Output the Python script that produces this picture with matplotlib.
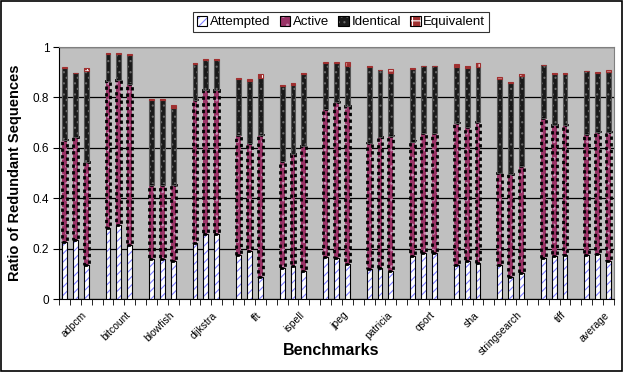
import matplotlib
matplotlib.use("Agg")
import matplotlib.pyplot as plt
from matplotlib.patches import Patch, Rectangle

plt.rcParams["font.family"] = ["Liberation Sans", "DejaVu Sans"]
plt.rcParams["hatch.linewidth"] = 0.8

benchmarks = ["adpcm", "bitcount", "blowfish", "dijkstra", "fft", "ispell",
              "jpeg", "patricia", "qsort", "sha", "stringsearch", "tiff",
              "average"]

# three runs per benchmark, stacked segments
attempted = [
    [0.226, 0.234, 0.135], [0.280, 0.295, 0.213], [0.160, 0.160, 0.151],
    [0.222, 0.258, 0.258], [0.176, 0.192, 0.087], [0.123, 0.129, 0.112],
    [0.166, 0.164, 0.137], [0.119, 0.125, 0.112], [0.169, 0.183, 0.183],
    [0.134, 0.149, 0.144], [0.136, 0.087, 0.103], [0.163, 0.172, 0.176],
    [0.175, 0.179, 0.149],
]
active = [
    [0.406, 0.407, 0.407], [0.586, 0.575, 0.640], [0.294, 0.294, 0.300],
    [0.569, 0.573, 0.573], [0.476, 0.429, 0.565], [0.423, 0.446, 0.496],
    [0.588, 0.616, 0.630], [0.500, 0.518, 0.536], [0.456, 0.476, 0.476],
    [0.563, 0.533, 0.557], [0.364, 0.408, 0.426], [0.555, 0.520, 0.516],
    [0.480, 0.482, 0.512],
]
identical = [
    [0.284, 0.254, 0.363], [0.107, 0.102, 0.116], [0.337, 0.337, 0.308],
    [0.143, 0.118, 0.118], [0.222, 0.245, 0.226], [0.301, 0.274, 0.286],
    [0.183, 0.157, 0.158], [0.301, 0.264, 0.250], [0.289, 0.264, 0.264],
    [0.223, 0.236, 0.218], [0.373, 0.362, 0.357], [0.209, 0.202, 0.202],
    [0.248, 0.237, 0.239],
]
equivalent = [
    [0.003, 0.003, 0.012], [0.003, 0.003, 0.003], [0.003, 0.003, 0.012],
    [0.003, 0.003, 0.003], [0.003, 0.008, 0.015], [0.003, 0.008, 0.003],
    [0.003, 0.003, 0.015], [0.005, 0.003, 0.015], [0.003, 0.003, 0.003],
    [0.014, 0.008, 0.018], [0.006, 0.003, 0.008], [0.003, 0.003, 0.003],
    [0.003, 0.003, 0.010],
]

# (face, hatch colour, hatch, edge colour, edge style)
styles = {
    "Attempted": ("white", "#7f7fff", "////", "black", "-"),
    "Active": ("#993366", "#c888b0", "..", "black", (0, (1.2, 1.2))),
    "Identical": ("#1a1a1a", "#6a6a6a", "...", "#555555", "-"),
    "Equivalent": ("#a03030", "white", "++", "#a03030", "-"),
}
series = {"Attempted": attempted, "Active": active,
          "Identical": identical, "Equivalent": equivalent}

fig = plt.figure(figsize=(6.26, 3.72), dpi=100)
ax = fig.add_axes([59 / 626, 1 - 299 / 372, 555 / 626, 252 / 372])
ax.set_facecolor("#c0c0c0")

width = 0.45
xs = []
for g in range(len(benchmarks)):
    for j in range(3):
        xs.append(g * 4 + j)

bottom = [0.0] * len(xs)
for name, data in series.items():
    face, hcol, hatch, ecol, ls = styles[name]
    vals = [v for grp in data for v in grp]
    ax.bar(xs, vals, width, bottom=bottom, color=face, edgecolor=hcol,
           hatch=hatch, linewidth=0, zorder=3)
    lw = 2.0 if name == "Active" else 0.8
    ax.bar(xs, vals, width, bottom=bottom, fill=False, edgecolor=ecol,
           linewidth=lw, linestyle=ls, zorder=4)
    bottom = [b + v for b, v in zip(bottom, vals)]

ax.set_xlim(-0.5, len(benchmarks) * 4 - 1.5)
ax.set_ylim(0, 1)
ax.set_yticks([0, 0.2, 0.4, 0.6, 0.8, 1.0])
ax.set_yticklabels(["0", "0.2", "0.4", "0.6", "0.8", "1"], fontsize=8.5)
ax.yaxis.grid(True, color="black", linewidth=0.9, zorder=0)
ax.set_axisbelow(True)

ax.set_xticks([g * 4 + 1.6 for g in range(len(benchmarks))])
ax.set_xticklabels(benchmarks, rotation=45, ha="right",
                   rotation_mode="anchor", fontsize=7.5)
ax.set_xticks([k - 0.5 for k in range(len(benchmarks) * 4)], minor=True)
ax.tick_params(axis="x", which="major", length=0, pad=8)
ax.tick_params(axis="x", which="minor", length=4, direction="out")
ax.tick_params(axis="y", length=4, direction="out", pad=3)

for s in ["top", "right"]:
    ax.spines[s].set_color("#808080")
for s in ["left", "bottom"]:
    ax.spines[s].set_color("black")

ax.set_ylabel("Ratio of Redundant Sequences", fontsize=10.5,
              fontweight="bold")
ax.yaxis.set_label_coords(-0.067, 0.5)
ax.set_xlabel("Benchmarks", fontsize=11.5, fontweight="bold")
ax.xaxis.set_label_coords(0.49, -0.175)

handles = []
for name in series:
    face, hcol, hatch, ecol, ls = styles[name]
    handles.append((Patch(facecolor=face, edgecolor=hcol, hatch=hatch, lw=0),
                    Patch(fill=False, edgecolor="black", lw=0.8)))
leg = fig.legend(handles, list(series.keys()), loc="center",
                 bbox_to_anchor=(341 / 626, 1 - 22 / 372), ncol=4,
                 fontsize=9.5, frameon=True, fancybox=False, shadow=False,
                 handlelength=0.8, handleheight=0.8, handletextpad=0.2,
                 columnspacing=0.7, borderpad=0.25, borderaxespad=0)
leg.get_frame().set_edgecolor("black")
leg.get_frame().set_linewidth(0.8)

fig.patches.append(Rectangle((0.002, 0.003), 0.992, 0.994,
                             transform=fig.transFigure, fill=False,
                             edgecolor="black", linewidth=1.2))

fig.savefig("out.png", dpi=100)
